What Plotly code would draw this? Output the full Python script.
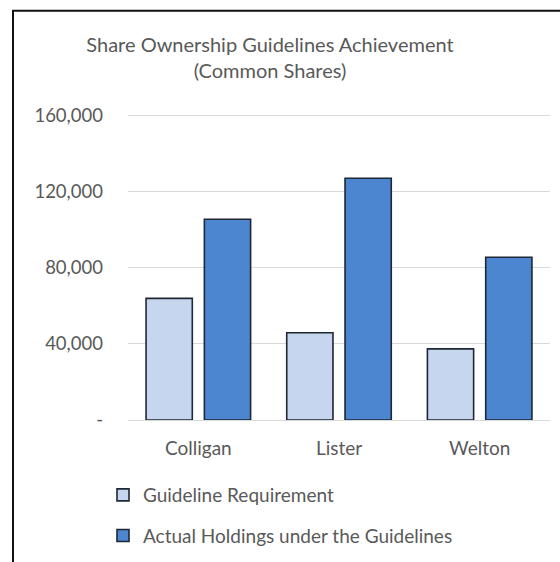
import plotly.graph_objects as go

categories = ["Colligan", "Lister", "Welton"]
guideline_requirement = [64000, 45900, 37400]
actual_holdings = [105600, 127200, 85600]
tick_values = [0, 40000, 80000, 120000, 160000]
tick_labels = ["-", "40,000", "80,000", "120,000", "160,000"]

FONT = "Lato"
GRAY = "#595959"

fig = go.Figure()
fig.add_trace(go.Bar(
    x=categories, y=guideline_requirement, name="Guideline Requirement",
    legendgroup="a",
    marker=dict(color="#C5D6EE", line=dict(color="#1E2733", width=1.6)),
))
fig.add_trace(go.Bar(
    x=categories, y=actual_holdings, name="Actual Holdings under the Guidelines",
    legendgroup="b",
    marker=dict(color="#4C86D0", line=dict(color="#1E2733", width=1.6)),
))

W, H = 560, 562
L, R, B = 128, 550, 420
YMAX = 161000
T = B - 76 * YMAX / 40000

def px_x(p):
    return (p - L) / (R - L)

def px_y(p):
    return (B - p) / (B - T)

fig.update_layout(
    width=W, height=H,
    margin=dict(l=L, r=W - R, t=T, b=H - B, pad=0, autoexpand=False),
    paper_bgcolor="white", plot_bgcolor="white",
    font=dict(family=FONT, color=GRAY, size=18),
    title=dict(
        text="Share Ownership Guidelines Achievement<br>(Common Shares)",
        x=270 / W, xanchor="center", xref="container",
        y=1 - 52 / H, yanchor="top", yref="container",
        font=dict(family=FONT, size=20, color=GRAY),
    ),
    barmode="group", bargap=0.171, bargroupgap=0.207,
    showlegend=True,
    legend=dict(
        orientation="v", traceorder="grouped", tracegroupgap=13,
        x=px_x(103), xanchor="left", y=px_y(476), yanchor="top",
        font=dict(family=FONT, size=19, color=GRAY),
        bgcolor="rgba(0,0,0,0)",
    ),
    xaxis=dict(
        showgrid=False, showline=True, linecolor="#D9D9D9", linewidth=1,
        ticks="", tickfont=dict(family=FONT, size=19, color=GRAY),
        ticklabelstandoff=11,
    ),
    yaxis=dict(
        range=[0, YMAX], tickvals=tick_values, ticktext=tick_labels,
        showgrid=True, gridcolor="#D9D9D9", gridwidth=1,
        zeroline=False, showline=False, ticks="",
        tickfont=dict(family=FONT, size=18.5, color=GRAY),
        ticklabelstandoff=24,
    ),
    shapes=[dict(
        type="rect", xref="paper", yref="paper",
        x0=px_x(13), x1=px_x(600), y0=px_y(620), y1=px_y(11),
        line=dict(color="#111111", width=2), fillcolor="rgba(0,0,0,0)",
        layer="above",
    )],
)

fig.write_html("out.html")
